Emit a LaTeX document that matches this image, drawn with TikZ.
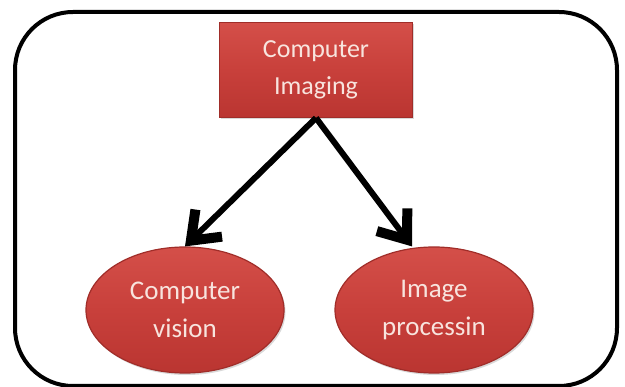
\documentclass[tikz,border=0pt]{standalone}
\usepackage{fontspec}
\setmainfont{Carlito}
\usetikzlibrary{arrows.meta,shapes.geometric,shadows}
\definecolor{boxred}{HTML}{C8403B}
\definecolor{boxredlight}{HTML}{D44F49}
\definecolor{boxreddark}{HTML}{BA3531}
\definecolor{rimred}{HTML}{A02D29}
\definecolor{labeltext}{HTML}{F8E4DE}
\tikzset{
  x=1pt, y=-1pt,
  frame/.style={draw=black, line width=4pt, rounded corners=58pt},
  rootbox/.style={rectangle, minimum width=193pt, minimum height=95pt,
    top color=boxredlight, bottom color=boxreddark, middle color=boxred, draw=rimred, line width=0.8pt,
    drop shadow={shadow xshift=1.5pt, shadow yshift=-2pt, opacity=0.3},
    text=labeltext, font=\fontsize{26}{37}\selectfont, align=center},
  leaf/.style={ellipse, minimum width=198pt, minimum height=126pt, inner sep=0pt,
    top color=boxredlight, bottom color=boxreddark, middle color=boxred, draw=rimred, line width=1.2pt,
    drop shadow={shadow xshift=1.5pt, shadow yshift=-2pt, opacity=0.3},
    text=labeltext, font=\fontsize{27}{38}\selectfont, align=center},
  link/.style={line width=6pt, -{Straight Barb[length=25pt, width=38pt, line width=10pt, sharp]}}
}
\begin{document}
\begin{tikzpicture}
\useasboundingbox (0,0) rectangle (625,387);
\draw[frame] (15,12) rectangle (617,386);
\node[rootbox] (root) at (316,70) {Computer\\Imaging};
\node[leaf] (cv) at (185,310) {Computer\\vision};
\node[leaf] (ip) at (434,310) {Image\\processin};
\draw[link] (root.south) -- (cv.north);
\draw[link] (root.south) -- (ip.north -| 412,0);
\end{tikzpicture}
\end{document}
